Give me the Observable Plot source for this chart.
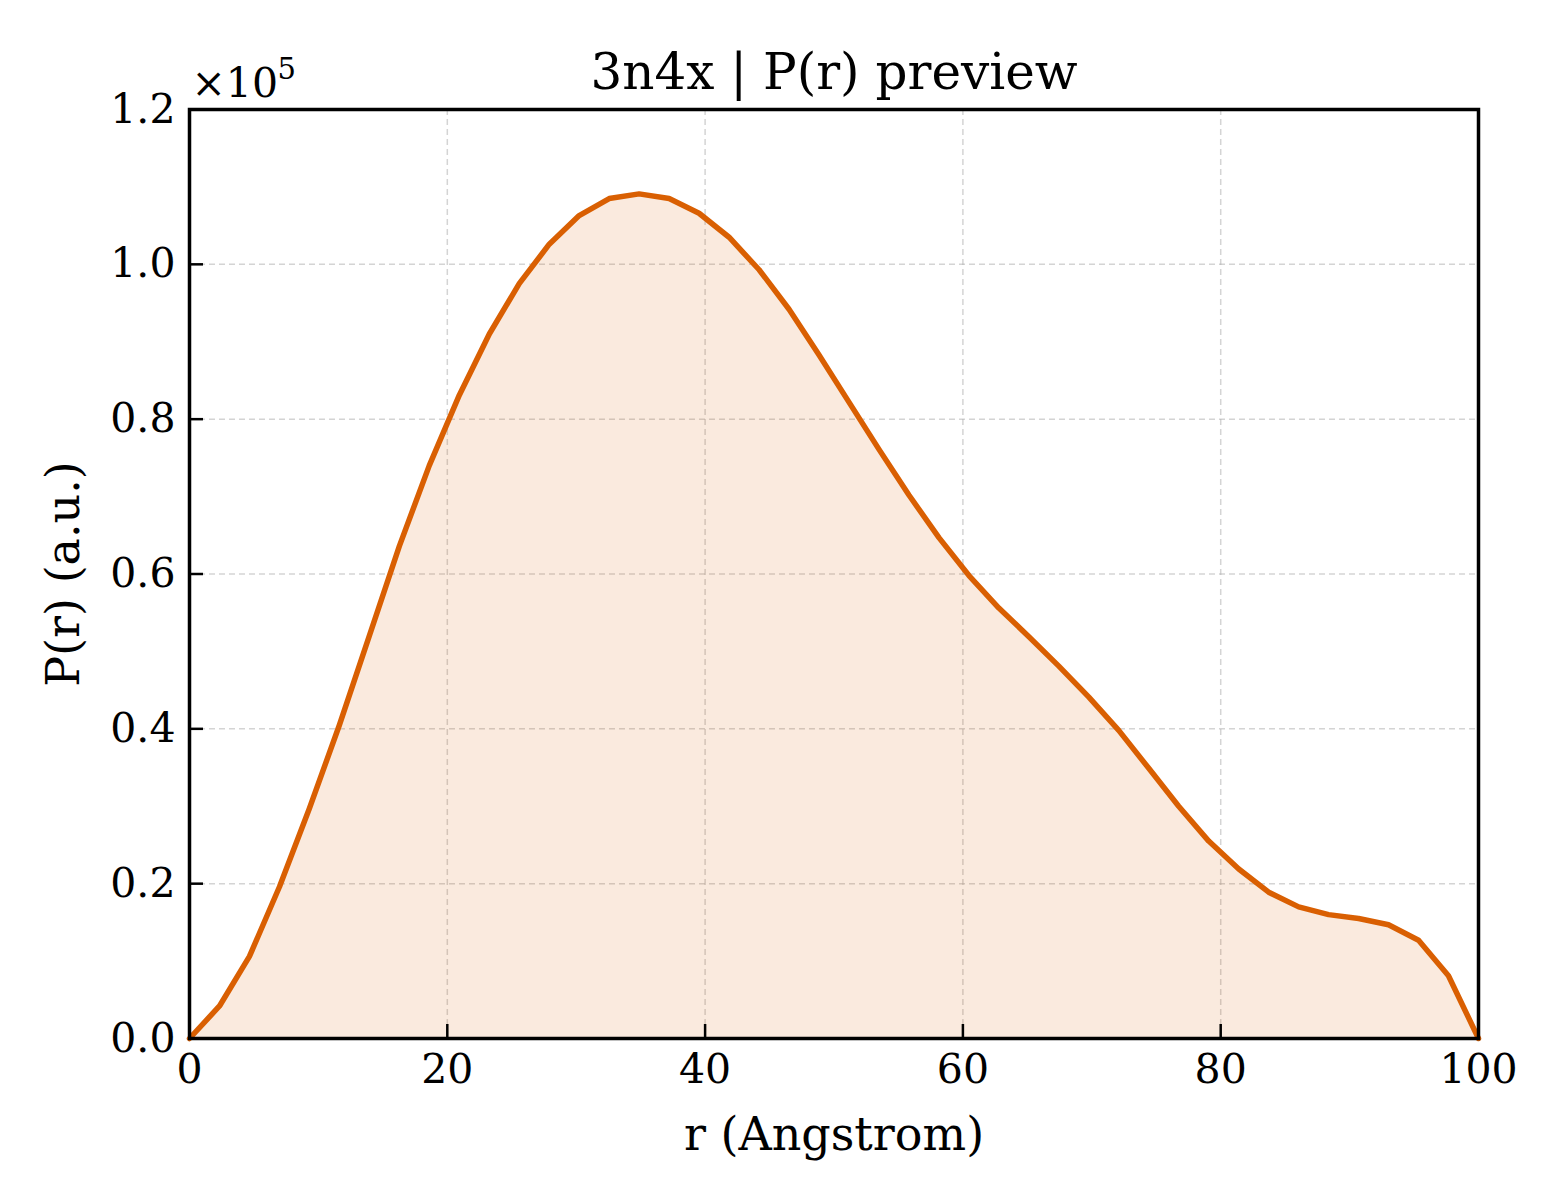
<!DOCTYPE html>
<html>
<head>
<meta charset="utf-8">
<script src="https://cdn.jsdelivr.net/npm/d3@7"></script>
<script src="https://cdn.jsdelivr.net/npm/@observablehq/plot@0.6"></script>
<style>
  html, body { margin: 0; padding: 0; background: #ffffff; }
  #chart svg { display: block; }
</style>
</head>
<body>
<div id="chart"></div>
<script>
// r (Angstrom) sample positions
const rValues = [0, 2.33, 4.65, 6.98, 9.30, 11.63, 13.95, 16.28, 18.60, 20.93, 23.26, 25.58, 27.91, 30.23, 32.56, 34.88, 37.21, 39.53, 41.86, 44.19, 46.51, 48.84, 51.16, 53.49, 55.81, 58.14, 60.47, 62.79, 65.12, 67.44, 69.77, 72.09, 74.42, 76.74, 79.07, 81.40, 83.72, 86.05, 88.37, 90.70, 93.02, 95.35, 97.67, 100];
// P(r) in units of 1e5
const pValues = [0, 0.042, 0.106, 0.196, 0.297, 0.405, 0.520, 0.636, 0.740, 0.831, 0.910, 0.975, 1.026, 1.063, 1.085, 1.091, 1.085, 1.066, 1.035, 0.993, 0.942, 0.883, 0.822, 0.761, 0.702, 0.647, 0.598, 0.556, 0.519, 0.481, 0.441, 0.398, 0.349, 0.300, 0.255, 0.219, 0.189, 0.170, 0.160, 0.155, 0.147, 0.127, 0.081, 0];
const scaleFactor = 1e5;
const xTicks = [0, 20, 40, 60, 80, 100];
const yTicks = [0, 0.2, 0.4, 0.6, 0.8, 1.0, 1.2];
const titleText = "3n4x | P(r) preview";
const xLabel = "r (Angstrom)";
const yLabel = "P(r) (a.u.)";
const offsetBase = "×10";
const offsetExp = "5";

const data = rValues.map((r, i) => ({r, p: pValues[i] * scaleFactor}));
const yTickVals = yTicks.map(t => t * scaleFactor);

const W = 1560, H = 1200;
const mL = 189, mR = 82, mT = 109, mB = 162;
const tickLen = 14;
const orange = "#d95f02";
const gridStyle = {stroke: "#b0b0b0", strokeOpacity: 0.55, strokeWidth: 1.5, strokeDasharray: "6,4"};

const chart = Plot.plot({
  width: W,
  height: H,
  marginLeft: mL,
  marginRight: mR,
  marginTop: mT,
  marginBottom: mB,
  style: {fontFamily: "'DejaVu Serif', serif", fontSize: "41px", background: "#ffffff", color: "#000"},
  x: {domain: [0, 100], ticks: xTicks},
  y: {domain: [0, 1.2e5], ticks: yTickVals},
  marks: [
    Plot.gridX(xTicks, gridStyle),
    Plot.gridY(yTickVals, gridStyle),
    Plot.areaY(data, {x: "r", y: "p", fill: orange, fillOpacity: 0.13}),
    Plot.lineY(data, {x: "r", y: "p", stroke: orange, strokeWidth: 5.5, strokeLinejoin: "round"}),
    // inward tick marks (bottom and left only)
    Plot.axisX(xTicks, {tickSize: tickLen, dy: -tickLen, strokeWidth: 2.5, tickFormat: () => "", label: null}),
    Plot.axisY(yTickVals, {tickSize: tickLen, dx: tickLen, strokeWidth: 2.5, tickFormat: () => "", label: null}),
    // tick labels and axis titles
    Plot.axisX(xTicks, {tickSize: 0, tickPadding: 15, fontSize: 41, label: xLabel, labelAnchor: "center", labelArrow: "none", labelOffset: 111}),
    Plot.axisY(yTickVals, {tickSize: 0, tickPadding: 14, fontSize: 41, tickFormat: d => (d / scaleFactor).toFixed(1), label: yLabel, labelAnchor: "center", labelArrow: "none", labelOffset: 143}),
    Plot.frame({stroke: "#000", strokeWidth: 3.5}),
    Plot.text([titleText], {frameAnchor: "top", dy: -21, lineAnchor: "bottom", fontSize: 50, fill: "#000"}),
    Plot.text([offsetBase], {frameAnchor: "top-left", dx: 2, dy: -13, lineAnchor: "bottom", textAnchor: "start", fontSize: 41, fill: "#000"}),
    Plot.text([offsetExp], {frameAnchor: "top-left", dx: 88, dy: -31, lineAnchor: "bottom", textAnchor: "start", fontSize: 29, fill: "#000"})
  ]
});
// axis label font size
chart.querySelectorAll("[aria-label='x-axis label'] text, [aria-label='y-axis label'] text").forEach(t => t.setAttribute("font-size", "46"));
document.getElementById("chart").appendChild(chart);
</script>
</body>
</html>
